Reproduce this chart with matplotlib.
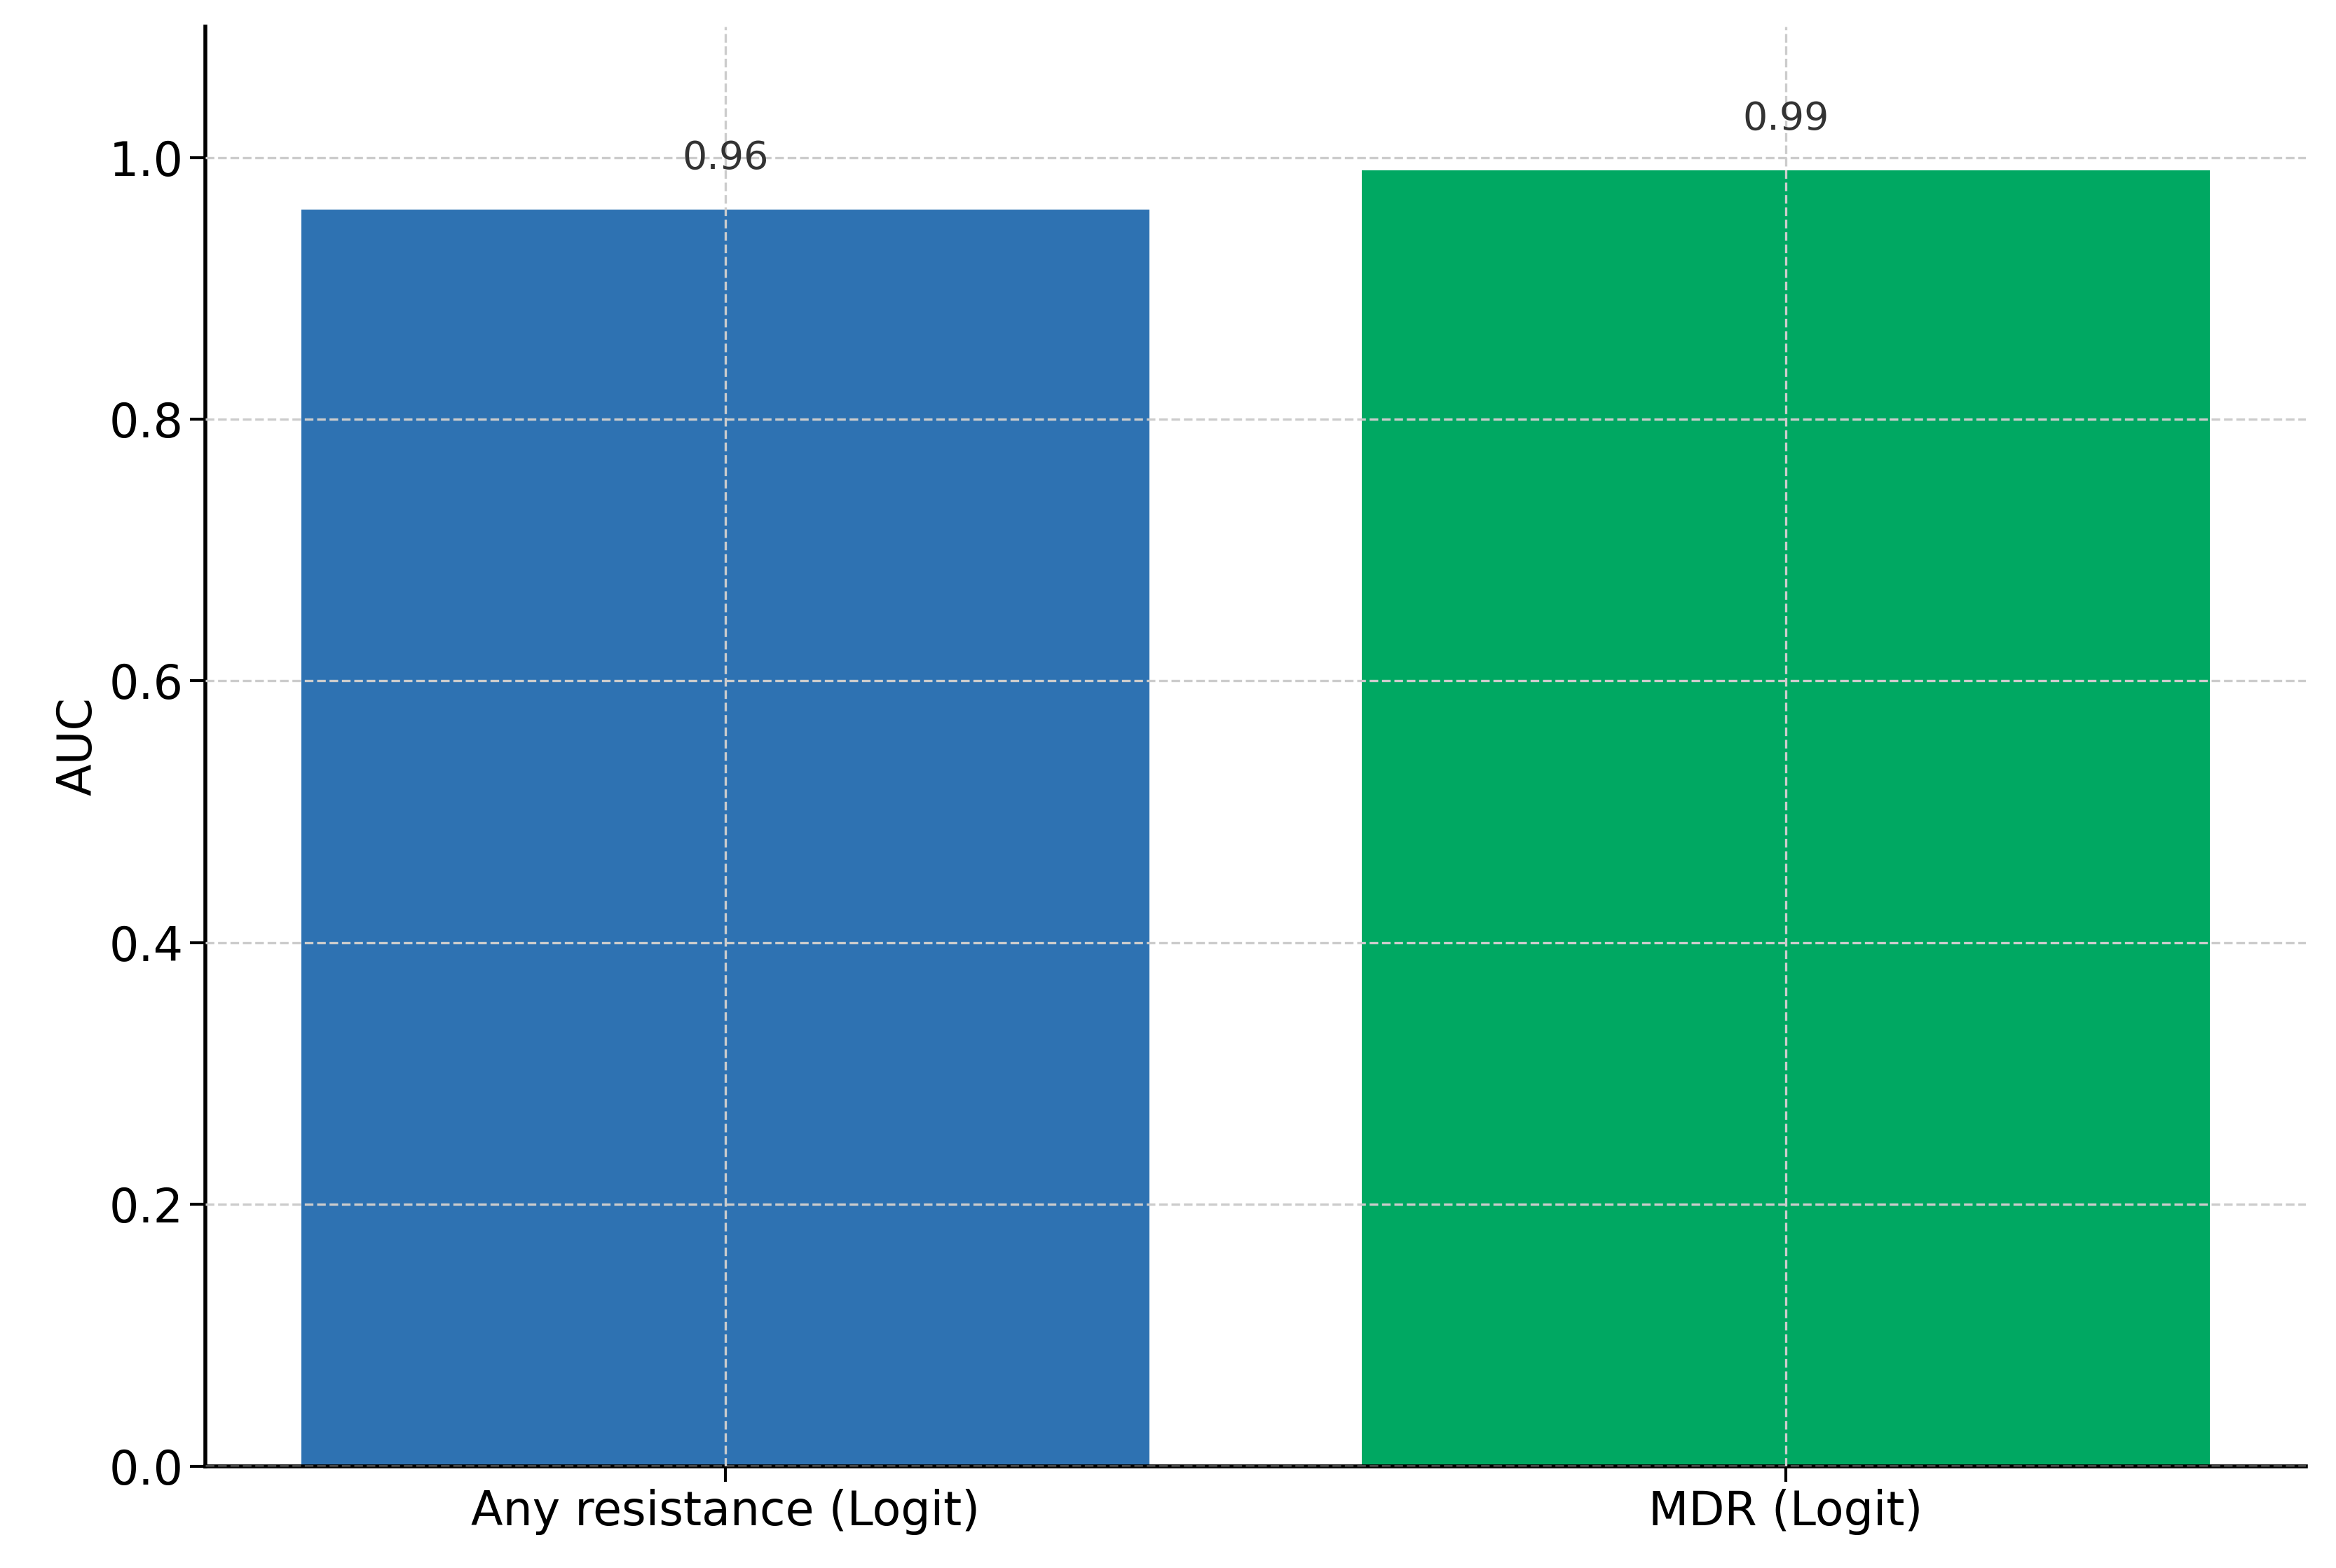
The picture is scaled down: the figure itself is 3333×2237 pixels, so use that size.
import matplotlib
matplotlib.use("Agg")
import matplotlib.pyplot as plt

categories = ["Any resistance (Logit)", "MDR (Logit)"]
auc_values = [0.96, 0.99]
bar_colors = ["#2E72B2", "#00A862"]

fig = plt.figure(figsize=(16.665, 11.185), dpi=200)
ax = fig.add_axes([0.088, 0.065, 0.899, 0.918])
x = range(len(categories))
ax.bar(x, auc_values, width=0.8, color=bar_colors, zorder=1)
for xi, v in zip(x, auc_values):
    ax.text(xi, v + 0.025, f"{v:.2f}", ha="center", va="bottom", fontsize=20, color="#333333")
ax.set_xticks(list(x))
ax.set_xticklabels(categories)
ax.set_xlim(-0.49, 1.49)
ax.set_ylim(0, 1.1)
ax.set_yticks([0, 0.2, 0.4, 0.6, 0.8, 1.0])
ax.set_ylabel("AUC", fontsize=24)
ax.tick_params(labelsize=24, length=8, width=1.5)
ax.grid(True, linestyle="--", color="#cccccc", linewidth=1.2, zorder=2)
ax.set_axisbelow(False)
for s in ["top", "right"]:
    ax.spines[s].set_visible(False)
for s in ["left", "bottom"]:
    ax.spines[s].set_linewidth(2)
fig.savefig("out.png", dpi=200)
